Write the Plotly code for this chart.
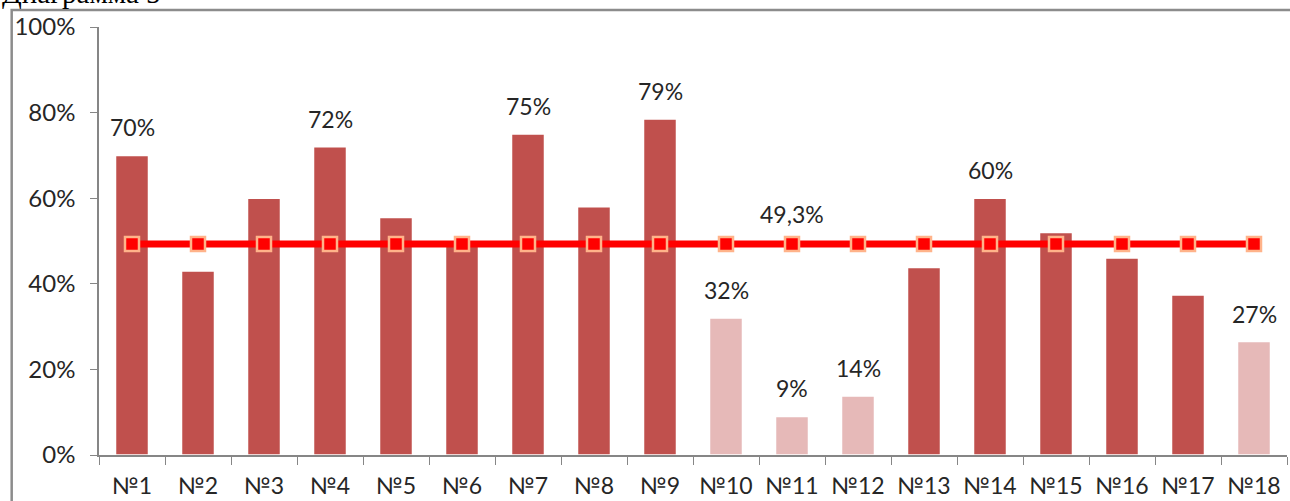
import plotly.graph_objects as go

categories = ["№1", "№2", "№3", "№4", "№5", "№6", "№7", "№8", "№9", "№10",
              "№11", "№12", "№13", "№14", "№15", "№16", "№17", "№18"]
values = [70, 43, 60, 72, 55.5, 49, 75, 58, 78.5, 32, 9, 13.8, 43.8, 60, 52, 46, 37.4, 26.5]
highlight = [False]*9 + [True, True, True] + [False]*5 + [True]
average = [49.3]*18
bar_labels = {"№1": "70%", "№4": "72%", "№7": "75%", "№9": "79%", "№10": "32%",
              "№11": "9%", "№12": "14%", "№14": "60%", "№18": "27%"}
avg_label = "49,3%"
avg_label_cat = "№11"
yticks = [0, 20, 40, 60, 80, 100]
ytick_text = ["0%", "20%", "40%", "60%", "80%", "100%"]

DARK = "#C0504D"
LIGHT = "#E6B9B8"
colors = [LIGHT if h else DARK for h in highlight]

fig = go.Figure()
fig.add_trace(go.Bar(
    x=categories, y=values, width=0.5,
    marker=dict(color=colors, line=dict(color="white", width=1.5)),
    hoverinfo="skip",
))
fig.add_trace(go.Scatter(
    x=categories, y=average, mode="lines+markers",
    line=dict(color="#FF0000", width=7),
    marker=dict(symbol="square", size=14, color="#FF0000",
                line=dict(color="#FFB38A", width=2.5)),
))

font_txt = "Lato, 'Open Sans', sans-serif"
for c, t in bar_labels.items():
    v = values[categories.index(c)]
    fig.add_annotation(x=c, y=v, text=t, showarrow=False, yanchor="bottom",
                       yshift=12, font=dict(size=23, color="#262626", family=font_txt))
fig.add_annotation(x=avg_label_cat, y=average[categories.index(avg_label_cat)],
                   text=avg_label, showarrow=False, yanchor="bottom", yshift=14,
                   font=dict(size=23, color="#262626", family=font_txt))

# outer frame and cut-off caption
fig.add_shape(type="rect", xref="paper", yref="paper", x0=-0.0735, x1=1.03,
              y0=-0.3, y1=1.04, line=dict(color="#8C8C8C", width=2.5),
              fillcolor="rgba(0,0,0,0)", layer="above")
fig.add_annotation(xref="paper", yref="paper", x=-0.0835, y=1.045, xanchor="left",
                   yanchor="bottom", yshift=-3, text="Диаграмма 5", showarrow=False,
                   font=dict(size=29, color="black", family="Liberation Serif"))

fig.update_layout(
    width=1290, height=501,
    margin=dict(l=99, r=3, t=27, b=46),
    paper_bgcolor="white", plot_bgcolor="white",
    showlegend=False, bargap=0.5,
    font=dict(family=font_txt, size=23, color="#262626"),
)
fig.update_yaxes(range=[0, 100], tickvals=yticks, ticktext=ytick_text, showgrid=False,
                 zeroline=False, showline=True, linecolor="#868686", linewidth=1.5,
                 ticks="outside", ticklen=7, tickcolor="#868686", ticklabelstandoff=10,
                 tickfont=dict(size=24, color="#262626"))
fig.update_xaxes(showgrid=False, showline=True, linecolor="#868686", linewidth=1.5,
                 ticks="outside", ticklen=8, tickcolor="#868686", tickson="boundaries",
                 ticklabelstandoff=10,
                 tickfont=dict(size=23, color="#262626"), range=[-0.5, 17.5])

fig.write_html("out.html", config={"displayModeBar": False},
               post_script="document.body.style.margin='0';")
